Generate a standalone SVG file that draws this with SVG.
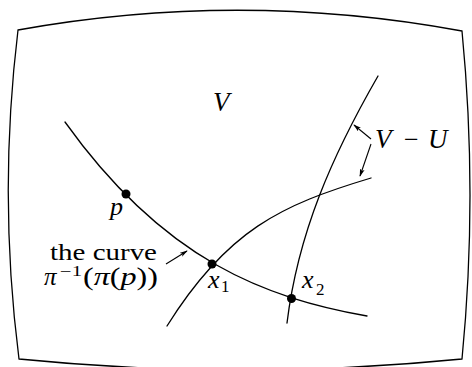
<svg xmlns="http://www.w3.org/2000/svg" width="472" height="367" viewBox="0 0 472 367" font-family="Liberation Serif">
<style>
.ln{fill:none;stroke:#000;stroke-width:1.3;stroke-linecap:round}
.ar{fill:none;stroke:#000;stroke-width:1.1;marker-end:url(#ah)}
.i{font-style:italic}
</style>
<defs>
<marker id="ah" viewBox="0 0 10 6" refX="9" refY="3" markerWidth="8" markerHeight="5" markerUnits="userSpaceOnUse" orient="auto">
<path d="M0,0 L10,3 L0,6 L2.5,3 Z" fill="#000"/>
</marker>
</defs>
<rect width="472" height="367" fill="#fff"/>
<g id="frame">
<path class="ln" d="M18,30 Q240,-10 462,31 Q478,195 462,359 Q240,381 19,359 Q-2,195 18,30 Z"/>
</g>
<g id="curves">
<path id="fiber" class="ln" d="M65,122 C165,262 267,298 367,316"/>
<path id="curve2" class="ln" d="M167,326 C227,230 281,205 371,178"/>
<path id="curve3" class="ln" d="M378,76 C332,156 298,233 287,323"/>
</g>
<g id="points">
<circle id="pt-p" cx="126" cy="194" r="4.5"/>
<circle id="pt-x1" cx="212" cy="264" r="4.5"/>
<circle id="pt-x2" cx="291.5" cy="298.5" r="4.5"/>
</g>
<g id="connectors">
<line class="ar" x1="371" y1="139" x2="354" y2="125"/>
<line class="ar" x1="371" y1="144" x2="360" y2="176"/>
<line class="ar" x1="166" y1="264" x2="187" y2="251"/>
</g>
<g id="labels" font-family="Liberation Serif" fill="#000">
<text class="i" x="213" y="111" font-size="27">V</text>
<text class="i" x="110" y="215" font-size="26">p</text>
<text x="50" y="260" font-size="23" textLength="107" lengthAdjust="spacingAndGlyphs">the curve</text>
<text class="i" x="44" y="285" font-size="25">π</text>
<text x="60" y="276" font-size="14" textLength="22" lengthAdjust="spacingAndGlyphs">−1</text>
<text x="83" y="285" font-size="25" textLength="75" lengthAdjust="spacingAndGlyphs">(<tspan class="i">π</tspan>(<tspan class="i">p</tspan>))</text>
<text class="i" x="208" y="288" font-size="26">x</text>
<text x="221" y="292" font-size="17">1</text>
<text class="i" x="302" y="288" font-size="26">x</text>
<text x="316" y="295" font-size="17">2</text>
<text class="i" x="375" y="148" font-size="27">V</text>
<text x="404" y="148" font-size="26">−</text>
<text class="i" x="428" y="148" font-size="27">U</text>
</g>
</svg>
